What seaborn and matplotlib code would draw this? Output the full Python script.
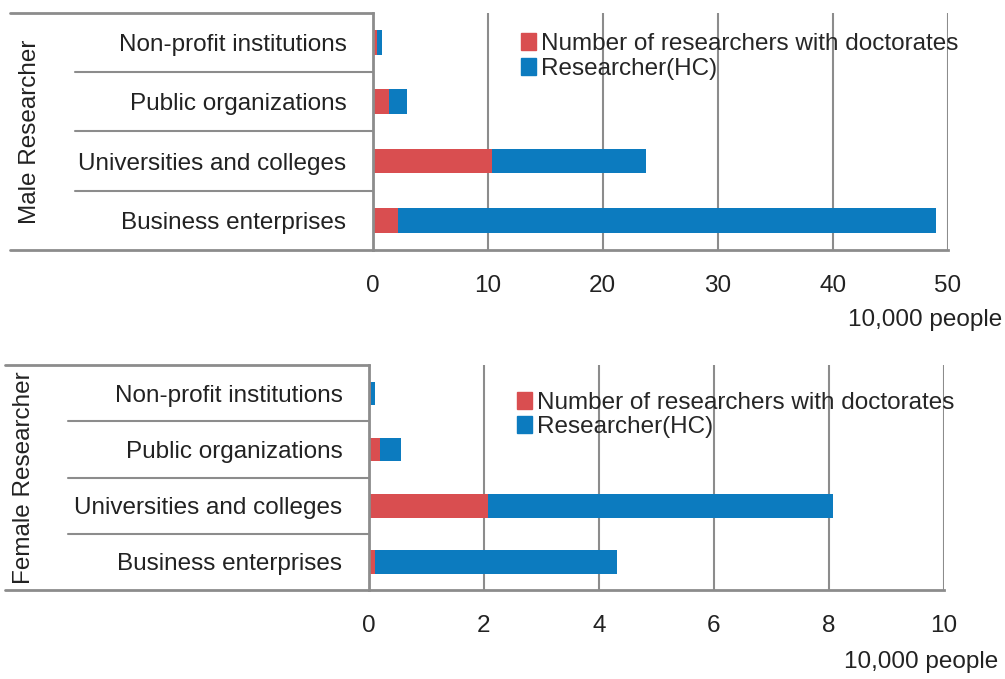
import matplotlib
matplotlib.use("Agg")
import matplotlib.pyplot as plt
import seaborn as sns
from matplotlib.patches import Patch

# data (10,000 people)
categories = ["Non-profit institutions", "Public organizations",
              "Universities and colleges", "Business enterprises"]
male_doctorates = [0.35, 1.4, 10.4, 2.2]
male_hc = [0.8, 2.95, 23.8, 49.0]
female_doctorates = [0.03, 0.2, 2.07, 0.11]
female_hc = [0.11, 0.56, 8.08, 4.31]
male_ticks = [0, 10, 20, 30, 40, 50]
female_ticks = [0, 2, 4, 6, 8, 10]

sns.set_theme(style="white")
plt.rcParams['font.family'] = ['Liberation Sans', 'DejaVu Sans']

red = "#D94E50"
blue = "#0C7BBF"
gray = "#8C8C8C"
txt = "#222222"
fs = 17.5

fig = plt.figure(figsize=(10.05, 6.79), dpi=100)


def panel(rect, doct, hc, ticks, title, inner_x, outer_x, label_x,
          unit_y, legend_y):
    ax = fig.add_axes(rect)
    sns.barplot(x=hc, y=categories, color=blue, width=0.42, ax=ax,
                saturation=1, orient="h", linewidth=0)
    sns.barplot(x=doct, y=categories, color=red, width=0.42, ax=ax,
                saturation=1, orient="h", linewidth=0)
    ax.set_xlim(ticks[0], ticks[-1])
    ax.set_ylim(3.5, -0.5)
    ax.set_xticks(ticks)
    ax.set_xticklabels([str(t) for t in ticks], fontsize=fs)
    ax.tick_params(axis="x", length=0, pad=18, colors=txt)
    ax.tick_params(axis="y", length=0, pad=19, labelsize=fs, colors=txt)
    ax.set_xlabel("")
    ax.set_ylabel("")
    ax.grid(axis="x", color=gray, linewidth=1.5)
    ax.set_axisbelow(True)
    for s in ["top", "right"]:
        ax.spines[s].set_visible(False)
    for s in ["left", "bottom"]:
        ax.spines[s].set_color(gray)
        ax.spines[s].set_linewidth(2)
    # separators between categories extending into label area
    for yb in [0.25, 0.5, 0.75]:
        ax.plot([inner_x, 0], [yb, yb], transform=ax.transAxes,
                color=gray, linewidth=1.5, clip_on=False)
    for yb in [0, 1]:
        ax.plot([outer_x, 0], [yb, yb], transform=ax.transAxes,
                color=gray, linewidth=2, clip_on=False)
    ax.text(label_x, 0.5, title, transform=ax.transAxes, rotation=90,
            ha="center", va="center", fontsize=fs, color=txt)
    ax.text(1.095, unit_y, "10,000 people", transform=ax.transAxes,
            ha="right", va="center", fontsize=fs, color=txt)
    handles = [Patch(color=red, label="Number of researchers with doctorates"),
               Patch(color=blue, label="Researcher(HC)")]
    ax.legend(handles=handles, loc="upper left", bbox_to_anchor=(0.24, legend_y),
              frameon=False, fontsize=fs, handlelength=0.65, handleheight=0.7,
              handletextpad=0.2, labelspacing=0.1, borderaxespad=0)
    return ax


panel([0.371, 0.632, 0.572, 0.349], male_doctorates, male_hc, male_ticks,
      "Male Researcher", -0.518, -0.631, -0.597, -0.295, 0.955)
panel([0.367, 0.131, 0.572, 0.331], female_doctorates, female_hc, female_ticks,
      "Female Researcher", -0.523, -0.633, -0.600, -0.32, 0.925)

fig.savefig("out.png", dpi=100)
